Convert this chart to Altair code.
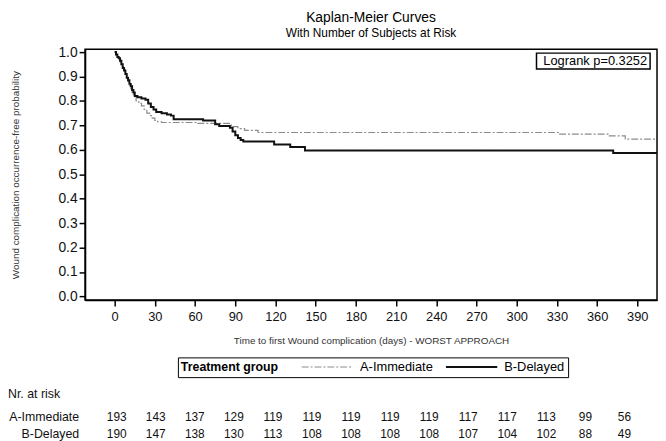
import altair as alt
import pandas as pd

FONT = "Liberation Sans"

groups = ["A-Immediate", "B-Delayed"]

# Kaplan-Meier step values
a_days = [0, 1, 2, 3, 4, 5, 6, 7, 8, 9, 10, 11, 12, 13, 14, 16, 18, 20, 22, 24, 26, 28, 30, 32, 35,
          62, 87, 92, 97, 107, 331, 368, 381, 405]
a_surv = [1.0, 0.99, 0.98, 0.97, 0.96, 0.95, 0.94, 0.925, 0.91, 0.895, 0.88, 0.865, 0.85, 0.835, 0.82,
          0.80, 0.79, 0.78, 0.765, 0.75, 0.74, 0.73, 0.72, 0.715, 0.712,
          0.708, 0.695, 0.687, 0.68, 0.671, 0.664, 0.657, 0.644, 0.644]

b_days = [0, 1, 2, 3, 4, 5, 6, 7, 8, 9, 10, 11, 12, 13, 14, 15, 17, 20, 23, 25, 27, 29, 31, 35, 39,
          42, 44, 66, 75, 78, 86, 88, 90, 92, 94, 96, 119, 131, 142, 372, 405]
b_surv = [1.0, 0.99, 0.98, 0.975, 0.965, 0.95, 0.935, 0.925, 0.91, 0.895, 0.885, 0.87, 0.86, 0.845,
          0.835, 0.82, 0.815, 0.81, 0.805, 0.79, 0.775, 0.765, 0.755, 0.75, 0.745,
          0.74, 0.725, 0.72, 0.705, 0.698, 0.69, 0.675, 0.66, 0.648, 0.64, 0.634, 0.622, 0.612, 0.597,
          0.587, 0.587]

x_ticks = [0, 30, 60, 90, 120, 150, 180, 210, 240, 270, 300, 330, 360, 390]
y_ticks = [0.0, 0.1, 0.2, 0.3, 0.4, 0.5, 0.6, 0.7, 0.8, 0.9, 1.0]

risk_a = [193, 143, 137, 129, 119, 119, 119, 119, 119, 117, 117, 113, 99, 56]
risk_b = [190, 147, 138, 130, 113, 108, 108, 108, 108, 107, 104, 102, 88, 49]

logrank_text = "Logrank p=0.3252"
title_text = "Kaplan-Meier Curves"
subtitle_text = "With Number of Subjects at Risk"
x_title = "Time to first Wound complication (days) - WORST APPROACH"
y_title = "Wound complication occurrence-free probability"

km = pd.concat([
    pd.DataFrame({"day": a_days, "surv": a_surv, "group": groups[0]}),
    pd.DataFrame({"day": b_days, "surv": b_surv, "group": groups[1]}),
])

W, H = 579, 254

x_scale = alt.Scale(domain=[-22.1, 404.7], nice=False, zero=False)
y_scale = alt.Scale(domain=[-0.015, 1.012], nice=False, zero=False)

# horizontal line symbol, 52px long, drawn independently of the entry height
leg = alt.Legend(
    title="Treatment group", orient="none", legendX=94, legendY=312,
    direction="horizontal", titleOrient="left", symbolType="M-5,0H5",
    symbolSize=108, symbolOffset=20.8, labelOffset=26.6,
    labelFontSize=13, titleFontSize=12.5, titleFontWeight="bold",
    titleColor="black", labelColor="black", strokeColor="black", padding=3,
    titlePadding=22, columnPadding=8, titleBaseline="middle", labelBaseline="middle",
)

lines = alt.Chart(km).mark_line(interpolate="step-after", clip=True).encode(
    x=alt.X("day:Q", scale=x_scale, axis=alt.Axis(
        values=x_ticks, title=x_title, titleFontSize=10, titleFontWeight="normal",
        titleColor="#333", titlePadding=12, labelFontSize=13, labelColor="#111",
        labelPadding=5, tickSize=6, tickWidth=1.5, tickColor="black",
        domainColor="black", domainWidth=1.5, grid=False, labelFlush=False)),
    y=alt.Y("surv:Q", scale=y_scale, axis=alt.Axis(
        values=y_ticks, format=".1f", title=y_title, titleFontSize=10,
        titleFontWeight="normal", titleColor="#333", titlePadding=38,
        labelFontSize=14, labelColor="#111", labelPadding=2, tickSize=6,
        tickWidth=1.5, tickColor="black", domainColor="black", domainWidth=1.5,
        grid=False, labelFlush=False)),
    color=alt.Color("group:N", scale=alt.Scale(domain=groups, range=["#8c8c8c", "#111111"]), legend=leg),
    strokeDash=alt.StrokeDash("group:N", scale=alt.Scale(domain=groups, range=[[7, 2, 2, 2], [1, 0]]), legend=leg),
    strokeWidth=alt.StrokeWidth("group:N", scale=alt.Scale(domain=groups, range=[1.2, 2.0]), legend=leg),
)

lr_df = pd.DataFrame({"label": [logrank_text]})
lr_box = alt.Chart(lr_df).mark_rect(fill="white", stroke="black", strokeWidth=1.5).encode(
    x=alt.value(457), x2=alt.value(572), y=alt.value(4), y2=alt.value(20))
lr_text = alt.Chart(lr_df).mark_text(align="right", baseline="middle", fontSize=13, color="black").encode(
    x=alt.value(569), y=alt.value(12.5), text="label:N")

main = alt.layer(lines, lr_box, lr_text).properties(
    width=W, height=H,
    title=alt.TitleParams(title_text, subtitle=subtitle_text, anchor="middle", frame="group",
                          fontSize=14, fontWeight="normal", subtitleFontSize=12,
                          color="black", subtitleColor="black", offset=6, subtitlePadding=3),
    view=alt.ViewBackground(stroke="black", strokeWidth=1.5),
)

risk = pd.concat([
    pd.DataFrame({"day": x_ticks, "n": risk_a, "group": groups[0]}),
    pd.DataFrame({"day": x_ticks, "n": risk_b, "group": groups[1]}),
])
rx = alt.Scale(domain=[-24.3, 415], nice=False, zero=False)

row_a = alt.Chart(risk[risk.group == groups[0]]).mark_text(fontSize=12, color="#111", baseline="middle").encode(
    x=alt.X("day:Q", scale=rx, axis=None), y=alt.value(35), text="n:Q")
row_b = alt.Chart(risk[risk.group == groups[1]]).mark_text(fontSize=12, color="#111", baseline="middle").encode(
    x=alt.X("day:Q", scale=rx, axis=None), y=alt.value(53), text="n:Q")

lab_df = pd.DataFrame({"label": groups})
lab_a = alt.Chart(lab_df[lab_df.label == groups[0]]).mark_text(
    fontSize=12.5, align="right", baseline="middle", color="#111").encode(
    x=alt.value(-6), y=alt.value(35), text="label:N")
lab_b = alt.Chart(lab_df[lab_df.label == groups[1]]).mark_text(
    fontSize=12.5, align="right", baseline="middle", color="#111").encode(
    x=alt.value(-6), y=alt.value(53), text="label:N")
nr = alt.Chart(pd.DataFrame({"label": ["Nr. at risk"]})).mark_text(
    fontSize=12.5, align="left", baseline="middle", color="#111").encode(
    x=alt.value(-78), y=alt.value(12), text="label:N")

table = alt.layer(row_a, row_b, lab_a, lab_b, nr).properties(
    width=W, height=56, view=alt.ViewBackground(strokeOpacity=0))

chart = alt.vconcat(main, table, spacing=36).resolve_scale(x="independent").properties(
    padding=0).configure(font=FONT)

chart.save("out.html", embed_options={"renderer": "svg", "actions": False})
